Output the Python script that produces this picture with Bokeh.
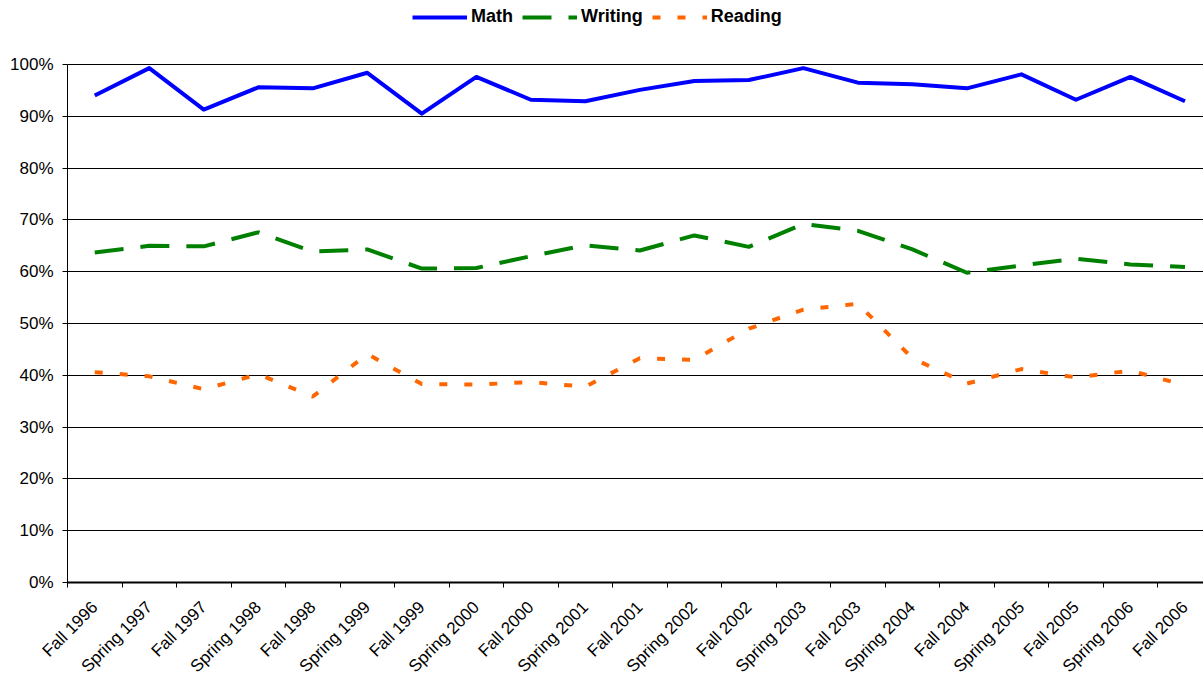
from bokeh.plotting import figure
from bokeh.models import (Range1d, FixedTicker, NumeralTickFormatter, Legend, LegendItem, Grid)
from bokeh.embed import file_html
from bokeh.resources import INLINE

categories = ["Fall 1996", "Spring 1997", "Fall 1997", "Spring 1998", "Fall 1998",
              "Spring 1999", "Fall 1999", "Spring 2000", "Fall 2000", "Spring 2001",
              "Fall 2001", "Spring 2002", "Fall 2002", "Spring 2003", "Fall 2003",
              "Spring 2004", "Fall 2004", "Spring 2005", "Fall 2005", "Spring 2006",
              "Fall 2006"]
math = [94.0, 99.3, 91.3, 95.6, 95.4, 98.4, 90.5, 97.6, 93.2, 92.9, 95.1,
        96.8, 97.0, 99.3, 96.5, 96.2, 95.4, 98.1, 93.2, 97.6, 92.9]
writing = [63.7, 65.0, 64.9, 67.6, 63.9, 64.3, 60.6, 60.7, 63.0, 65.1, 64.1,
           67.0, 64.8, 69.2, 67.9, 64.3, 59.8, 61.2, 62.5, 61.4, 60.9]
reading = [40.6, 39.8, 37.3, 40.2, 35.9, 44.1, 38.3, 38.2, 38.7, 37.8, 43.3,
           43.0, 49.0, 52.7, 53.8, 43.3, 38.4, 41.2, 39.6, 40.9, 38.1]
y_ticks = [0, 10, 20, 30, 40, 50, 60, 70, 80, 90, 100]

FONT = "Liberation Sans"
xs = [i + 0.5 for i in range(len(categories))]
X_END = 20.84
HAS_CB = "cross_bounds" in Grid.properties()

PX = 518.0                     # pixels per 100 %
CW = (1203 - 67) / X_END       # pixels per category

if HAS_CB:
    # frame covers the whole canvas; axes are pinned at 0
    x_range = Range1d(-67 / CW, X_END)
    y_range = Range1d(-93 / PX, 1 + 64 / PX)
    borders = dict(min_border_left=0, min_border_right=0, min_border_top=0,
                   min_border_bottom=0)
    leg_loc = (412, 648)
else:
    x_range = Range1d(0, X_END)
    y_range = Range1d(0, 582 / PX)
    borders = dict(min_border_left=67, min_border_right=0, min_border_top=0,
                   min_border_bottom=93)
    leg_loc = (345, 555)

p = figure(width=1203, height=675, output_backend="svg", toolbar_location=None,
           x_range=x_range, y_range=y_range, **borders)
p.outline_line_color = None
p.background_fill_color = "white"
p.border_fill_color = "white"

r_math = p.line(xs, [v / 100 for v in math], line_color="#0000FF", line_width=4,
                line_join="round")
r_writing = p.line(xs, [v / 100 for v in writing], line_color="#008000", line_width=4,
                   line_dash="29 17", line_join="round")
r_reading = p.line(xs, [v / 100 for v in reading], line_color="#FF6600", line_width=4,
                   line_dash="8 17", line_join="round")

# x axis
xa = p.xaxis[0]
xa.ticker = FixedTicker(ticks=xs, minor_ticks=list(range(len(categories) + 1)))
xa.major_label_overrides = {x: c for x, c in zip(xs, categories)}
xa.major_label_orientation = 0.785398
xa.major_tick_out = 0
xa.major_tick_in = 0
xa.minor_tick_out = 5
xa.minor_tick_in = 0
xa.minor_tick_line_color = "#000000"
xa.axis_line_color = "#000000"
xa.axis_line_width = 2
xa.major_label_text_font = FONT
xa.major_label_text_font_size = "17px"
xa.major_label_text_color = "#000000"

# y axis
ya = p.yaxis[0]
ya.bounds = (0, 1)
ya.ticker = FixedTicker(ticks=[t / 100 for t in y_ticks], minor_ticks=[])
ya.formatter = NumeralTickFormatter(format="0%")
ya.major_tick_out = 5
ya.major_tick_in = 0
ya.major_tick_line_color = "#000000"
ya.axis_line_color = "#000000"
ya.axis_line_width = 1
ya.major_label_standoff = 9
ya.major_label_text_font = FONT
ya.major_label_text_font_size = "17px"
ya.major_label_text_color = "#000000"

p.xgrid.grid_line_color = None
p.ygrid.grid_line_color = "#000000"
p.ygrid.grid_line_width = 1

if HAS_CB:
    xa.fixed_location = 0
    xa.bounds = (0, X_END)
    xa.major_label_standoff = 17
    ya.fixed_location = 0
    p.ygrid.cross_bounds = (0, X_END)
else:
    xa.major_label_standoff = 7

legend = Legend(items=[LegendItem(label="Math", renderers=[r_math]),
                       LegendItem(label="Writing", renderers=[r_writing]),
                       LegendItem(label="Reading", renderers=[r_reading])],
                orientation="horizontal", location=leg_loc,
                glyph_width=55, glyph_height=20, label_height=20,
                label_standoff=4, spacing=9, padding=0, margin=0,
                border_line_color=None, background_fill_alpha=0,
                label_text_font=FONT, label_text_font_size="18px",
                label_text_font_style="bold", label_text_color="#000000")
p.add_layout(legend, "center")

open("out.html", "w").write(file_html(p, INLINE))
